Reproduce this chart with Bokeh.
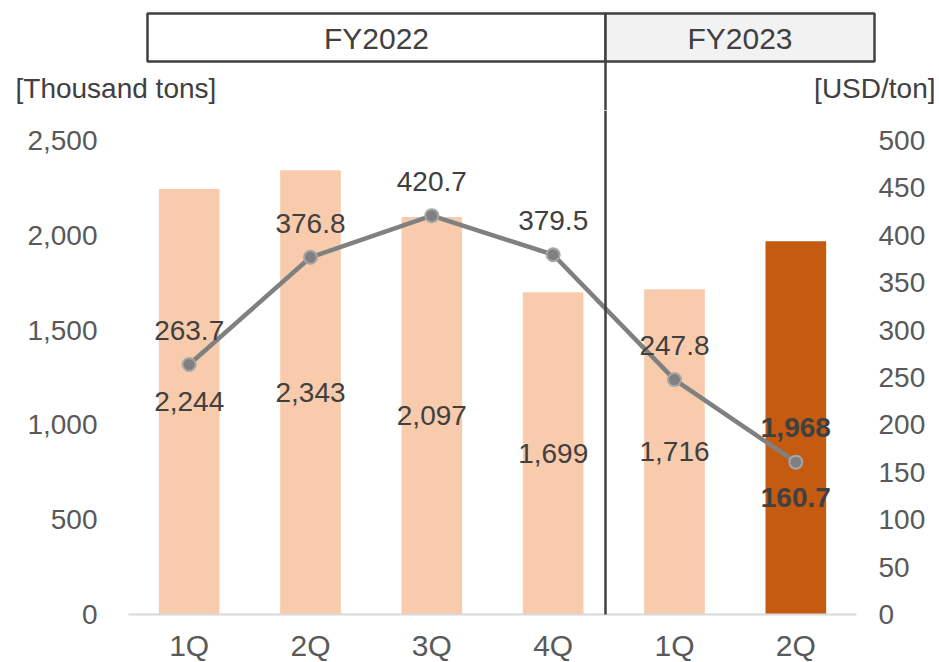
import numpy as np
from bokeh.plotting import figure
from bokeh.layouts import column
from bokeh.models import (ColumnDataSource, Range1d, LinearAxis, FixedTicker,
                          NumeralTickFormatter, BoxAnnotation)
from bokeh.core.properties import value
from bokeh.embed import file_html
from bokeh.resources import INLINE

# ---------------- data ----------------
fiscal_years = ["FY2022", "FY2023"]
quarters = ["1Q", "2Q", "3Q", "4Q", "1Q", "2Q"]
volume_kt = [2244, 2343, 2097, 1699, 1716, 1968]          # thousand tons (bars)
price_usd = [263.7, 376.8, 420.7, 379.5, 247.8, 160.7]    # USD/ton (line)
left_ticks = [0, 500, 1000, 1500, 2000, 2500]
right_ticks = [0, 50, 100, 150, 200, 250, 300, 350, 400, 450, 500]
left_unit = "[Thousand tons]"
right_unit = "[USD/ton]"

# ---------------- layout / style ----------------
FONT = "Liberation Sans"
W = 939
HEAD_H = 110                     # header strip height
FRAME_L, FRAME_W, BORDER_R = 128, 728, 83
FRAME_H = 614 - HEAD_H           # main frame height (baseline at y=614 on page)
BORDER_B = 662 - 614
AXIS_PX = 474                    # pixel span of 0..max ticks
LIGHT, DARK = "#f8cbad", "#c55a11"
TXT, TICK, EDGE = "#404040", "#595959", "#404040"
DIV_X = 605

n = len(quarters)
xs = np.arange(1, n + 1)
left_max, right_max = left_ticks[-1], right_ticks[-1]

# ---------------- header strip ----------------
h = figure(width=W, height=HEAD_H, x_range=Range1d(0, W), y_range=Range1d(HEAD_H, 0),
           x_axis_type=None, y_axis_type=None, output_backend="svg",
           toolbar_location=None, min_border=0, outline_line_color=None,
           background_fill_color="white", border_fill_color="white",
           frame_align=False)
h.xgrid.visible = False
h.ygrid.visible = False
h.quad(left=[147, DIV_X], right=[DIV_X, 874], top=[13, 13], bottom=[61, 61],
       fill_color=["white", "#f2f2f2"], line_color=EDGE, line_width=2.5)
h.quad(left=[DIV_X - 1.25], right=[DIV_X + 1.25], top=[61], bottom=[HEAD_H],
       fill_color=EDGE, line_color=None)
hsrc = ColumnDataSource(dict(x=[376, 739.5], y=[38, 38], t=fiscal_years))
h.text(x="x", y="y", text="t", source=hsrc, text_align="center",
       text_baseline="middle", text_font=value(FONT), text_font_size="30px",
       text_color=TXT)
h.text(x=[15], y=[88], text=[left_unit], text_align="left", text_baseline="middle",
       text_font=value(FONT), text_font_size="28px", text_color=TXT)
h.text(x=[935], y=[88], text=[right_unit], text_align="right", text_baseline="middle",
       text_font=value(FONT), text_font_size="28px", text_color=TXT)

# ---------------- main chart ----------------
p = figure(frame_width=FRAME_W, frame_height=FRAME_H,
           x_range=Range1d(0.5, n + 0.5),
           y_range=Range1d(0, left_max * FRAME_H / AXIS_PX),
           output_backend="svg", toolbar_location=None,
           min_border_left=FRAME_L, min_border_right=BORDER_R,
           min_border_top=0, min_border_bottom=BORDER_B,
           outline_line_color=None, background_fill_color="white",
           border_fill_color="white", frame_align=False)
p.extra_y_ranges = {"price": Range1d(0, right_max * FRAME_H / AXIS_PX),
                    "px": Range1d(FRAME_H, 0)}
p.extra_x_ranges = {"px": Range1d(FRAME_L, FRAME_L + FRAME_W)}
p.xgrid.grid_line_color = None
p.ygrid.grid_line_color = None

xa = p.xaxis[0]
xa.ticker = FixedTicker(ticks=list(xs))
xa.major_label_overrides = {int(i): q for i, q in zip(xs, quarters)}
xa.major_label_text_font = FONT
xa.major_label_text_font_size = "30px"
xa.major_label_text_color = TICK
xa.axis_line_color = "#d9d9d9"
xa.axis_line_width = 2
xa.major_tick_line_color = None
xa.minor_tick_line_color = None
xa.major_label_standoff = 8

ya = p.yaxis[0]
ya.ticker = FixedTicker(ticks=left_ticks)
ya.formatter = NumeralTickFormatter(format="0,0")
ya.axis_line_color = None
ya.major_tick_line_color = None
ya.minor_tick_line_color = None
ya.major_label_text_font = FONT
ya.major_label_text_font_size = "28px"
ya.major_label_text_color = TICK
ya.major_label_standoff = 25

ra = LinearAxis(y_range_name="price", ticker=FixedTicker(ticks=right_ticks),
                formatter=NumeralTickFormatter(format="0,0"))
ra.axis_line_color = None
ra.major_tick_line_color = None
ra.minor_tick_line_color = None
ra.major_label_text_font = FONT
ra.major_label_text_font_size = "28px"
ra.major_label_text_color = TICK
ra.major_label_standoff = 16
p.add_layout(ra, "right")

colors = [LIGHT] * (n - 1) + [DARK]
styles = ["normal"] * (n - 1) + ["bold"]
p_off = [-34] * (n - 1) + [35]
src = ColumnDataSource(dict(
    x=xs, vol=volume_kt, vol_mid=[v / 2 for v in volume_kt],
    vol_txt=[f"{v:,}" for v in volume_kt], price=price_usd,
    price_txt=[f"{v:.1f}" for v in price_usd], color=colors,
    style=styles, p_off=p_off))

p.vbar(x="x", top="vol", width=0.5, fill_color="color", line_color=None, source=src)
p.line(x="x", y="price", y_range_name="price", line_color="#808080",
       line_width=4.5, source=src)
p.scatter(x="x", y="price", y_range_name="price", size=13, fill_color="#808080",
          line_color="#a6a6a6", line_width=2, source=src)

p.text(x="x", y="vol_mid", text="vol_txt", source=src, text_align="center",
       text_baseline="middle", text_font=value(FONT), text_font_size="28px",
       text_color=TXT, text_font_style="style")
p.text(x="x", y="price", text="price_txt", source=src, y_range_name="price",
       y_offset="p_off", text_align="center", text_baseline="middle",
       text_font=value(FONT), text_font_size="28px", text_color=TXT,
       text_font_style="style")

# divider continuing through the chart and below the axis
p.add_layout(BoxAnnotation(left=DIV_X - 1.25, right=DIV_X + 1.25, top=0, bottom=700,
                           x_range_name="px", y_range_name="px",
                           fill_color=EDGE, fill_alpha=1, line_color=None))

layout = column(h, p, spacing=0)
open("out.html", "w").write(file_html(layout, INLINE))
